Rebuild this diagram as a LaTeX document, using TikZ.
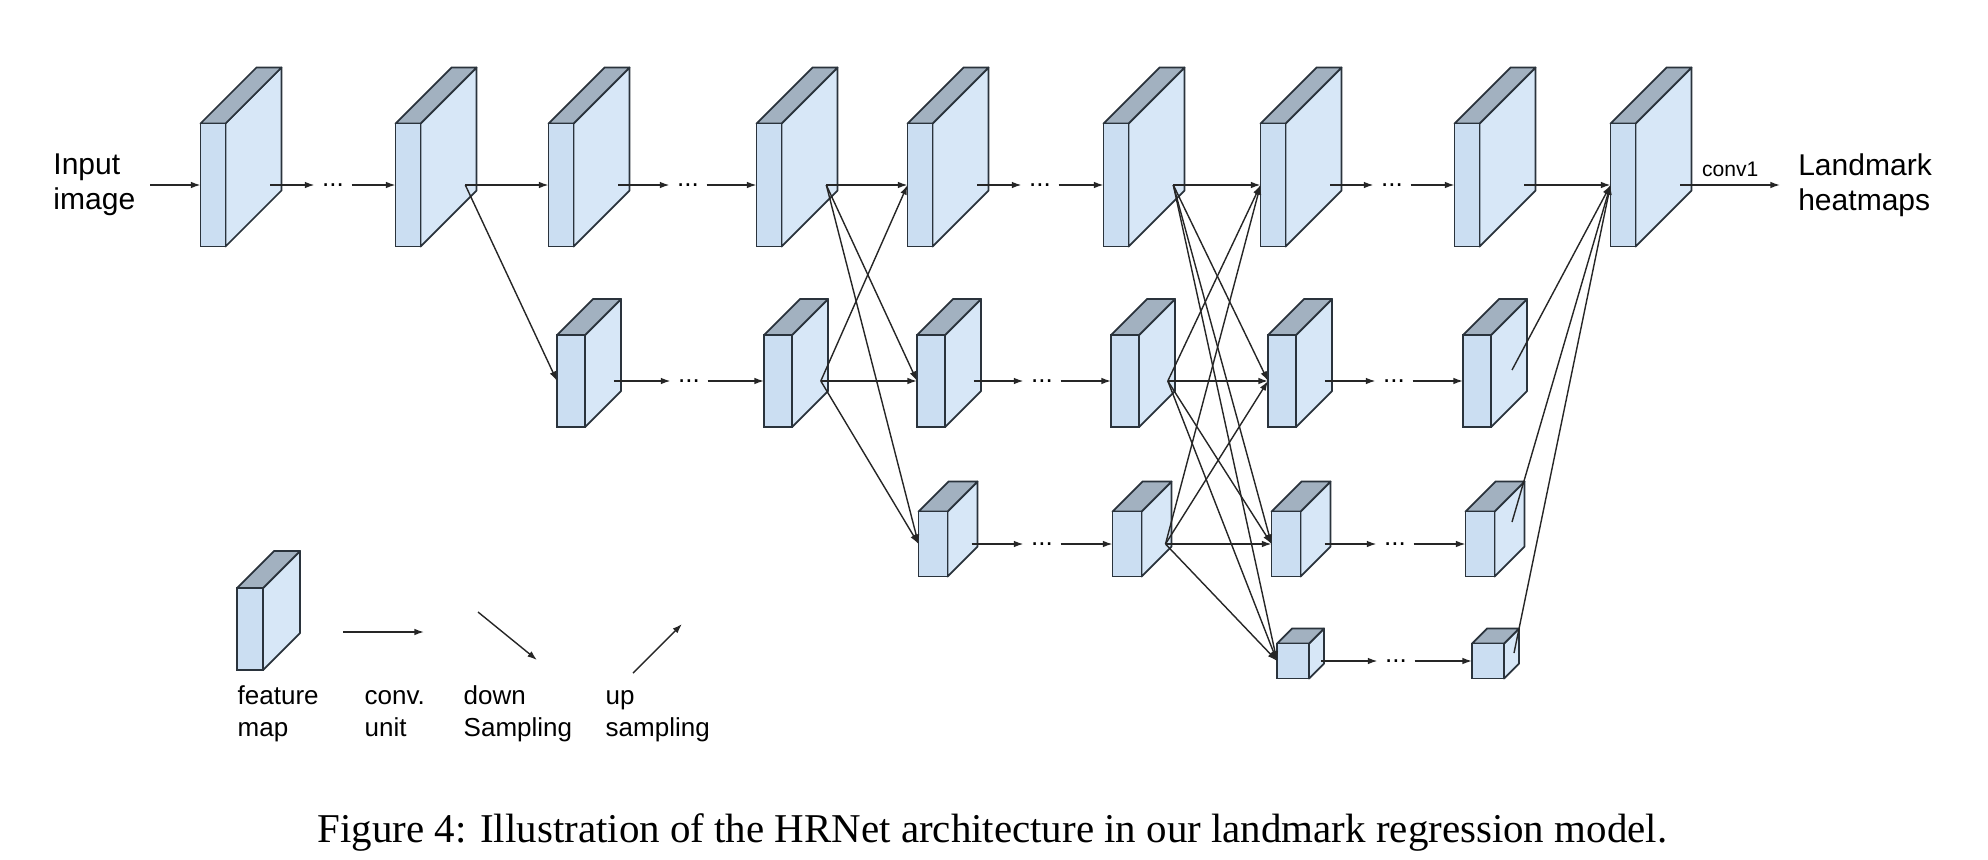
\documentclass[tikz,border=0pt]{standalone}
\usepackage{fontspec}
\setmainfont{Liberation Sans}
\newfontfamily\capfont{Liberation Serif}
\usetikzlibrary{arrows.meta,calc}
\definecolor{frontc}{HTML}{CBDEF2}
\definecolor{sidec}{HTML}{D7E7F7}
\definecolor{topc}{HTML}{A2B1C0}
\definecolor{edgec}{HTML}{2A333C}

\begin{document}
\begin{tikzpicture}[x = 0.02cm, y = 0.02cm, line width = 0.8pt,
    conv/.style = {-{Latex[length=5.5pt, width=3.8pt]}, draw = black!85},
    fmap/.style n args = {3}{draw = edgec, fill = frontc, line width = 1pt,
      inner sep = 0pt, outer sep = 0pt,
      minimum width = #1*0.02cm, minimum height = #2*0.02cm,
      append after command = {\pgfextra{
        \draw [draw = edgec, fill = sidec, line width = 1pt, line join = round]
          (\tikzlastnode.north east) -- ++(#3, #3) -- ++(0, -#2) -- (\tikzlastnode.south east) -- cycle;
        \draw [draw = edgec, fill = topc, line width = 1pt, line join = round]
          (\tikzlastnode.north west) -- ++(#3, #3) -- ++(#1, 0) -- (\tikzlastnode.north east) -- cycle;
        \coordinate (\tikzlastnode-out) at ($(\tikzlastnode.east) + (0.8*#3, 0)$);}}},
    fmA/.style = {fmap = {25}{123}{56}},
    fmB/.style = {fmap = {28}{92}{36}},
    fmC/.style = {fmap = {29}{65}{30}},
    fmD/.style = {fmap = {32}{35}{15}},
    fmL/.style = {fmap = {26}{82}{37}},
    ellip/.style = {inner xsep = 4pt, inner ysep = 1pt, font = \fontsize{14.8}{18}\selectfont},
    bigtxt/.style = {align = left, inner xsep = 8pt, font = \fontsize{17.1}{20}\selectfont},
    legtxt/.style = {align = left, anchor = north west, inner sep = 0pt, font = \fontsize{14.8}{18.2}\selectfont}]
      \useasboundingbox (0, 0) rectangle (1988, -859);
      \node [fmA] (a0) at (213, -185) {};
      \node [fmA] (a1) at (408, -185) {};
      \node [fmA] (a2) at (561, -185) {};
      \node [fmA] (a3) at (769, -185) {};
      \node [fmA] (a4) at (920, -185) {};
      \node [fmA] (a5) at (1116, -185) {};
      \node [fmA] (a6) at (1273, -185) {};
      \node [fmA] (a7) at (1467, -185) {};
      \node [fmA] (a8) at (1623, -185) {};
      \node [fmB] (b2) at (571, -381) {};
      \node [fmB] (b3) at (778, -381) {};
      \node [fmB] (b4) at (931, -381) {};
      \node [fmB] (b5) at (1125, -381) {};
      \node [fmB] (b6) at (1282, -381) {};
      \node [fmB] (b7) at (1477, -381) {};
      \node [fmC] (c4) at (933, -544) {};
      \node [fmC] (c5) at (1127, -544) {};
      \node [fmC] (c6) at (1286, -544) {};
      \node [fmC] (c7) at (1480, -544) {};
      \node [fmD] (d6) at (1293, -661) {};
      \node [fmD] (d7) at (1488, -661) {};
      \node [fmL] (lg) at (250, -629) {};
      \node [ellip] (a01) at (333, -185) {...};
      \node [ellip] (a23) at (688, -185) {...};
      \node [ellip] (a45) at (1040, -185) {...};
      \node [ellip] (a67) at (1392, -185) {...};
      \node [ellip] (b23) at (689, -381) {...};
      \node [ellip] (b45) at (1042, -381) {...};
      \node [ellip] (b67) at (1394, -381) {...};
      \node [ellip] (c45) at (1042, -544) {...};
      \node [ellip] (c67) at (1395, -544) {...};
      \node [ellip] (d67) at (1396, -661) {...};
      \node [bigtxt, anchor = east] (inp) at (150, -185) {Input\\image};
      \node [bigtxt, anchor = west, inner xsep = 10pt] (outp) at (1780, -185) {Landmark\\heatmaps};
      \node [legtxt] (lt1) at (237, -681) {\strut feature\\map};
      \node [legtxt] (lt2) at (364, -681) {\strut conv.\\unit};
      \node [legtxt] (lt3) at (463, -681) {\strut down\\Sampling};
      \node [legtxt] (lt4) at (605, -681) {\strut up\\sampling};
      \node [anchor = base west, inner sep = 0pt, font = \capfont\fontsize{23.3}{28}\selectfont] (cap) at (317, -842)
        {Figure 4: Illustration of the HRNet architecture in our landmark regression model.};
      \coordinate (b7u) at (1512, -370);
      \coordinate (c7u) at (1512, -522);
      \coordinate (d7u) at (1514, -653);
      \coordinate (lc0) at (343, -632); \coordinate (lc1) at (424, -632);
      \coordinate (ld0) at (478, -612); \coordinate (ld1) at (537, -660);
      \coordinate (lu0) at (633, -673); \coordinate (lu1) at (682, -624);
      \draw [conv] (inp) -- (a0.west);
      \draw [conv] (a0-out) -- (a01); \draw [conv] (a01) -- (a1.west);
      \draw [conv] (a1-out) -- (a2.west); \draw [conv] (a1-out) -- (b2.west);
      \draw [conv] (a2-out) -- (a23); \draw [conv] (a23) -- (a3.west);
      \draw [conv] (b2-out) -- (b23); \draw [conv] (b23) -- (b3.west);
      \draw [conv] (a3-out) -- (a4.west); \draw [conv] (a3-out) -- (b4.west); \draw [conv] (a3-out) -- (c4.west);
      \draw [conv] (b3-out) -- (a4.west); \draw [conv] (b3-out) -- (b4.west); \draw [conv] (b3-out) -- (c4.west);
      \draw [conv] (a4-out) -- (a45); \draw [conv] (a45) -- (a5.west);
      \draw [conv] (b4-out) -- (b45); \draw [conv] (b45) -- (b5.west);
      \draw [conv] (c4-out) -- (c45); \draw [conv] (c45) -- (c5.west);
      \draw [conv] (a5-out) -- (a6.west); \draw [conv] (a5-out) -- (b6.west); \draw [conv] (a5-out) -- (c6.west); \draw [conv] (a5-out) -- (d6.west);
      \draw [conv] (b5-out) -- (a6.west); \draw [conv] (b5-out) -- (b6.west); \draw [conv] (b5-out) -- (c6.west); \draw [conv] (b5-out) -- (d6.west);
      \draw [conv] (c5-out) -- (a6.west); \draw [conv] (c5-out) -- (b6.west); \draw [conv] (c5-out) -- (c6.west); \draw [conv] (c5-out) -- (d6.west);
      \draw [conv] (a6-out) -- (a67); \draw [conv] (a67) -- (a7.west);
      \draw [conv] (b6-out) -- (b67); \draw [conv] (b67) -- (b7.west);
      \draw [conv] (c6-out) -- (c67); \draw [conv] (c67) -- (c7.west);
      \draw [conv] (d6-out) -- (d67); \draw [conv] (d67) -- (d7.west);
      \draw [conv] (a7-out) -- (a8.west); \draw [conv] (b7u) -- (a8.west);
      \draw [conv] (c7u) -- (a8.west); \draw [conv] (d7u) -- (a8.west);
      \draw [conv] (a8-out) -- node [above = 4.5pt, inner sep = 0pt, font = \fontsize{12}{14}\selectfont] (cv1) {conv1} (outp);
      \draw [conv] (lc0) -- (lc1);
      \draw [conv] (ld0) -- (ld1);
      \draw [conv] (lu0) -- (lu1);
    \end{tikzpicture}
\end{document}
